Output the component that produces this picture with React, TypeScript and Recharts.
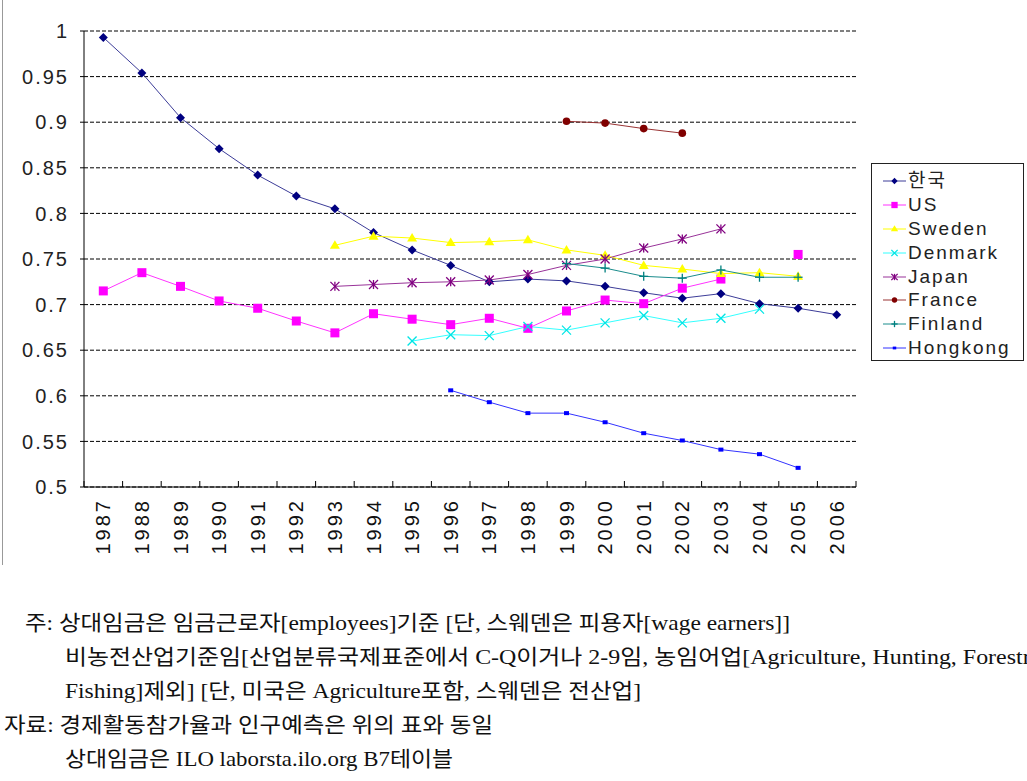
import { CartesianGrid, Line, LineChart, XAxis, YAxis } from "recharts";

const years = [
  "1987", "1988", "1989", "1990", "1991", "1992", "1993", "1994", "1995", "1996",
  "1997", "1998", "1999", "2000", "2001", "2002", "2003", "2004", "2005", "2006",
];

const korea = [0.993, 0.954, 0.905, 0.871, 0.842, 0.819, 0.805, 0.779, 0.76, 0.743, 0.725, 0.728, 0.726, 0.72, 0.713, 0.707, 0.712, 0.701, 0.696, 0.689];
const us = [0.715, 0.735, 0.72, 0.704, 0.696, 0.682, 0.669, 0.69, 0.684, 0.678, 0.685, 0.674, 0.693, 0.705, 0.701, 0.718, 0.728, null, 0.755, null];
const sweden = [null, null, null, null, null, null, 0.765, 0.775, 0.773, 0.768, 0.769, 0.771, 0.76, 0.754, 0.743, 0.739, 0.734, 0.735, 0.731, null];
const denmark = [null, null, null, null, null, null, null, null, 0.66, 0.667, 0.666, 0.676, 0.672, 0.68, 0.688, 0.68, 0.685, 0.695, null, null];
const japan = [null, null, null, null, null, null, 0.72, 0.722, 0.724, 0.725, 0.727, 0.733, 0.743, 0.75, 0.762, 0.772, 0.783, null, null, null];
const france = [null, null, null, null, null, null, null, null, null, null, null, null, 0.901, 0.899, 0.893, 0.888, null, null, null, null];
const finland = [null, null, null, null, null, null, null, null, null, null, null, null, 0.745, 0.74, 0.731, 0.729, 0.738, 0.73, 0.73, null];
const hongkong = [null, null, null, null, null, null, null, null, null, 0.606, 0.593, 0.581, 0.581, 0.571, 0.559, 0.551, 0.541, 0.536, 0.521, null];

const yTicks = [0.5, 0.55, 0.6, 0.65, 0.7, 0.75, 0.8, 0.85, 0.9, 0.95, 1];
const yTickLabels = ["0.5", "0.55", "0.6", "0.65", "0.7", "0.75", "0.8", "0.85", "0.9", "0.95", "1"];

const footnotes = [
  "주: 상대임금은 임금근로자[employees]기준 [단, 스웨덴은 피용자[wage earners]]",
  "비농전산업기준임[산업분류국제표준에서 C-Q이거나 2-9임,  농임어업[Agriculture,  Hunting,  Forestry,",
  "Fishing]제외] [단, 미국은 Agriculture포함, 스웨덴은 전산업]",
  "자료: 경제활동참가율과 인구예측은 위의 표와 동일",
  "상대임금은 ILO laborsta.ilo.org B7테이블",
];

const series = [
  { key: "korea", name: "한국", values: korea, color: "#000080", line: "#3c3c98", shape: "diamond" },
  { key: "us", name: "US", values: us, color: "#ff00ff", line: "#ff33ff", shape: "square" },
  { key: "sweden", name: "Sweden", values: sweden, color: "#ffff00", line: "#ffff00", shape: "triangle" },
  { key: "denmark", name: "Denmark", values: denmark, color: "#00e5e5", line: "#33ffff", shape: "x" },
  { key: "japan", name: "Japan", values: japan, color: "#800080", line: "#993399", shape: "star" },
  { key: "france", name: "France", values: france, color: "#800000", line: "#993333", shape: "circle" },
  { key: "finland", name: "Finland", values: finland, color: "#008080", line: "#1a8c8c", shape: "plus" },
  { key: "hongkong", name: "Hongkong", values: hongkong, color: "#0000ff", line: "#3333ff", shape: "dash" },
];

const data = years.map((year, i) => {
  const row: Record<string, any> = { year };
  series.forEach((s) => {
    row[s.key] = s.values[i];
  });
  return row;
});

const SANS = "'Liberation Sans', Arial, 'Noto Sans CJK KR', sans-serif";
const SERIF = "'Liberation Serif', 'Noto Sans CJK KR', serif";

function Marker({ shape, color, x, y, k = 1 }: { shape: string; color: string; x: number; y: number; k?: number }) {
  const r = 4.5 * k;
  switch (shape) {
    case "diamond":
      return <polygon points={`${x},${y - r} ${x + r},${y} ${x},${y + r} ${x - r},${y}`} fill={color} />;
    case "square":
      return <rect x={x - r} y={y - r} width={r * 2} height={r * 2} fill={color} />;
    case "triangle":
      return <polygon points={`${x},${y - r - 0.5} ${x + r + 0.5},${y + r - 1} ${x - r - 0.5},${y + r - 1}`} fill={color} />;
    case "x":
      return (
        <g stroke={color} strokeWidth={1.3}>
          <line x1={x - r} y1={y - r} x2={x + r} y2={y + r} />
          <line x1={x - r} y1={y + r} x2={x + r} y2={y - r} />
        </g>
      );
    case "star":
      return (
        <g stroke={color} strokeWidth={1.3}>
          <line x1={x - r} y1={y - r} x2={x + r} y2={y + r} />
          <line x1={x - r} y1={y + r} x2={x + r} y2={y - r} />
          <line x1={x} y1={y - r} x2={x} y2={y + r} />
        </g>
      );
    case "circle":
      return <circle cx={x} cy={y} r={r * 0.85} fill={color} />;
    case "plus":
      return (
        <g stroke={color} strokeWidth={1.3}>
          <line x1={x - r} y1={y} x2={x + r} y2={y} />
          <line x1={x} y1={y - r} x2={x} y2={y + r} />
        </g>
      );
    default:
      return <rect x={x - 2.5 * k} y={y - 2 * k} width={5 * k} height={4 * k} fill={color} />;
  }
}

function makeDot(shape: string, color: string) {
  return (props: any) => {
    const { cx, cy, index, value } = props;
    if (cx == null || cy == null || value == null) return <g key={`d-${index}`} />;
    return (
      <g key={`d-${index}`}>
        <Marker shape={shape} color={color} x={cx} y={cy} />
      </g>
    );
  };
}

function YearTick(props: any) {
  const { x, y, payload, index } = props;
  const half = payload?.offset || 19.3;
  const isLast = index === years.length - 1;
  return (
    <g>
      <line x1={x - half} x2={x - half} y1={y} y2={y - 6} stroke="#000" />
      {isLast && <line x1={x + half} x2={x + half} y1={y} y2={y - 6} stroke="#000" />}
      <text
        transform={`translate(${x + 7}, ${y + 11}) rotate(-90)`}
        textAnchor="end"
        fontFamily={SANS}
        fontSize={20}
        letterSpacing={3}
        fill="#111"
      >
        {payload.value}
      </text>
    </g>
  );
}

function ValueTick(props: any) {
  const { x, y, payload } = props;
  const i = yTicks.indexOf(payload.value);
  return (
    <text x={x + 2} y={y} dy="0.36em" textAnchor="end" fontFamily={SANS} fontSize={20} letterSpacing={2} fill="#222">
      {i >= 0 ? yTickLabels[i] : payload.value}
    </text>
  );
}

export default function App() {
  return (
    <div style={{ position: "absolute", left: 0, top: 0, width: 1027, height: 781, overflow: "hidden", background: "#fff" }}>
      <div style={{ position: "absolute", left: 2, top: 0, width: 1, height: 565, background: "#999" }} />
      <LineChart
        width={1027}
        height={570}
        data={data}
        margin={{ top: 31, right: 171, left: 0, bottom: 8 }}
      >
        <CartesianGrid vertical={false} stroke="#000" strokeDasharray="4 2" />
        <XAxis
          dataKey="year"
          scale="band"
          interval={0}
          height={75}
          tickSize={0}
          tickMargin={0}
          tick={<YearTick />}
          axisLine={{ stroke: "#000" }}
          tickLine={false}
        />
        <YAxis
          domain={[0.5, 1]}
          ticks={yTicks}
          width={84}
          tickSize={4}
          tickMargin={13}
          tick={<ValueTick />}
          axisLine={{ stroke: "#000" }}
          tickLine={{ stroke: "#000" }}
        />
        {series.map((s) => (
          <Line
            key={s.key}
            type="linear"
            dataKey={s.key}
            name={s.name}
            stroke={s.line}
            strokeWidth={1}
            connectNulls={false}
            dot={makeDot(s.shape, s.color)}
            activeDot={false}
            isAnimationActive={false}
          />
        ))}
      </LineChart>

      <div
        style={{
          position: "absolute",
          left: 871,
          top: 163,
          width: 151,
          height: 191,
          border: "1px solid #222",
          paddingTop: 5,
          boxSizing: "content-box",
        }}
      >
        {series.map((s) => (
          <div key={s.key} style={{ display: "flex", alignItems: "center", height: 23.9 }}>
            <svg width={36} height={24} style={{ flex: "none" }}>
              <line x1={11} x2={34} y1={12} y2={12} stroke={s.line} strokeWidth={1} />
              <Marker shape={s.shape} color={s.color} x={22.5} y={12} k={0.7} />
            </svg>
            <span style={{ fontFamily: SANS, fontSize: 19, letterSpacing: 2, color: "#222", lineHeight: "24px" }}>
              {s.name}
            </span>
          </div>
        ))}
      </div>

      <svg width={1027} height={200} style={{ position: "absolute", left: 0, top: 590 }}>
        <text x={25} y={40} textLength={765} lengthAdjust="spacingAndGlyphs" fontFamily={SERIF} fontSize={21} fill="#111">
          {footnotes[0]}
        </text>
        <text x={65} y={74} textLength={982} lengthAdjust="spacingAndGlyphs" fontFamily={SERIF} fontSize={21} fill="#111">
          {footnotes[1]}
        </text>
        <text x={65} y={108} textLength={576} lengthAdjust="spacingAndGlyphs" fontFamily={SERIF} fontSize={21} fill="#111">
          {footnotes[2]}
        </text>
        <text x={4} y={142} textLength={489} lengthAdjust="spacingAndGlyphs" fontFamily={SERIF} fontSize={21} fill="#111">
          {footnotes[3]}
        </text>
        <text x={65} y={176} textLength={388} lengthAdjust="spacingAndGlyphs" fontFamily={SERIF} fontSize={21} fill="#111">
          {footnotes[4]}
        </text>
      </svg>
    </div>
  );
}
